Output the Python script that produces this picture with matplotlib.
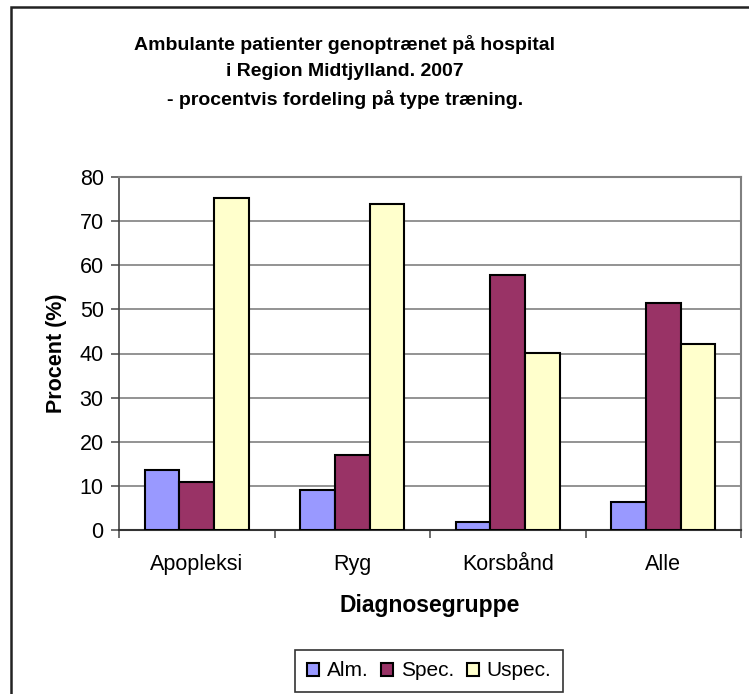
import matplotlib
matplotlib.use("Agg")
import matplotlib.pyplot as plt
import matplotlib.patches as patches
import numpy as np

plt.rcParams["font.family"] = ["Liberation Sans", "DejaVu Sans"]

categories = ["Apopleksi", "Ryg", "Korsbånd", "Alle"]
series_names = ["Alm.", "Spec.", "Uspec."]
alm = [13.5, 9.0, 1.8, 6.4]
spec = [10.9, 16.9, 57.8, 51.5]
uspec = [75.2, 73.8, 40.2, 42.1]
colors = ["#9999FF", "#993366", "#FFFFCC"]
title_lines = ["Ambulante patienter genoptrænet på hospital",
               "i Region Midtjylland. 2007",
               "- procentvis fordeling på type træning."]

W, H = 749, 694
fig = plt.figure(figsize=(W / 100, H / 100), dpi=100)
ax = fig.add_axes([119 / W, 1 - 530 / H, 622 / W, 353 / H])

# outer chart frame (cropped on right and bottom)
fig.patches.append(patches.Rectangle((11 / W, -0.1), 1.2, 1.1 - 7 / H,
                                     transform=fig.transFigure, fill=False,
                                     edgecolor="#222222", linewidth=1.8))

x = np.arange(len(categories)) + 0.5
bw = 1 / 4.5
for i, (vals, name) in enumerate(zip([alm, spec, uspec], series_names)):
    ax.bar(x + (i - 1) * bw, vals, width=bw, color=colors[i],
           edgecolor="black", linewidth=1.5, label=name, zorder=3)

ax.set_xlim(0, len(categories))
ax.set_ylim(0, 80)
ax.set_yticks(np.arange(0, 81, 10))
ax.yaxis.grid(True, color="#808080", linewidth=1.2, zorder=0)
ax.tick_params(axis="y", direction="out", length=6, width=1.2,
               color="#555555", labelsize=15.5, pad=5)

ax.set_xticks(np.arange(0, len(categories) + 1))
ax.set_xticklabels([])
ax.tick_params(axis="x", which="major", direction="out", length=6,
               width=1.2, color="#555555")
ax.set_xticks(x, minor=True)
ax.set_xticklabels(categories, minor=True)
ax.tick_params(axis="x", which="minor", length=0, labelsize=15.5, pad=17)

for side in ["top", "right"]:
    ax.spines[side].set_color("#808080")
    ax.spines[side].set_linewidth(1.5)
ax.spines["left"].set_color("#444444")
ax.spines["bottom"].set_color("#333333")
ax.spines["left"].set_linewidth(1.2)
ax.spines["bottom"].set_linewidth(1.5)

ax.set_ylabel("Procent (%)", fontsize=15.5, fontweight="bold", labelpad=9)
ax.set_xlabel("Diagnosegruppe", fontsize=16.5, fontweight="bold", labelpad=14)

fig.text(345 / W, 1 - 72 / H, "\n".join(title_lines), ha="center",
         va="center", fontsize=14, fontweight="bold", linespacing=1.7)

handles, labels = ax.get_legend_handles_labels()
leg = fig.legend(handles, labels, loc="center",
                 bbox_to_anchor=(429 / W, 1 - 671 / H), ncol=3,
                 fontsize=15, frameon=True, fancybox=False,
                 edgecolor="black", handlelength=0.6, handleheight=0.6,
                 handletextpad=0.35, columnspacing=0.6, borderpad=0.55,
                 borderaxespad=0)
leg.get_frame().set_linewidth(1.2)

fig.savefig("out.png", dpi=100, facecolor="white")
